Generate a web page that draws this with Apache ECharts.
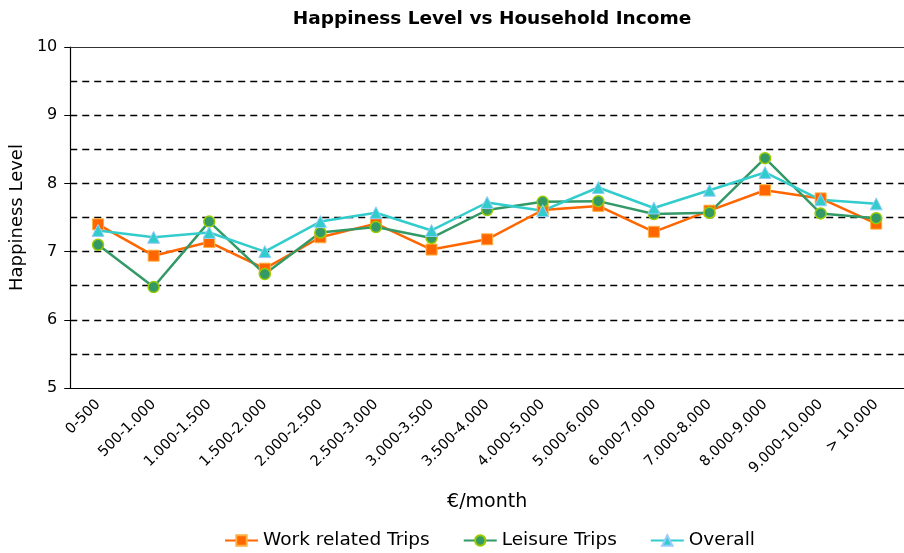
<!DOCTYPE html>
<html>
<head>
<meta charset="utf-8">
<script src="https://cdn.jsdelivr.net/npm/echarts@6/dist/echarts.min.js"></script>
<style>
  html, body { margin: 0; padding: 0; background: #fff; }
  #chart { width: 904px; height: 553px; }
</style>
</head>
<body>
<div id="chart"></div>
<script>
var incomeBands = ["0-500", "500-1.000", "1.000-1.500", "1.500-2.000", "2.000-2.500",
  "2.500-3.000", "3.000-3.500", "3.500-4.000", "4.000-5.000", "5.000-6.000",
  "6.000-7.000", "7.000-8.000", "8.000-9.000", "9.000-10.000", "> 10.000"];
var workTrips = [7.40, 6.94, 7.14, 6.75, 7.21, 7.41, 7.03, 7.18, 7.61, 7.67, 7.29, 7.60, 7.90, 7.78, 7.41];
var leisureTrips = [7.10, 6.48, 7.44, 6.67, 7.28, 7.36, 7.20, 7.61, 7.73, 7.74, 7.55, 7.57, 8.37, 7.56, 7.49];
var overall = [7.31, 7.21, 7.28, 7.00, 7.44, 7.57, 7.31, 7.72, 7.60, 7.94, 7.64, 7.90, 8.16, 7.76, 7.70];

var font = "DejaVu Sans";
var myChart = echarts.init(document.getElementById("chart"));

var option = {
  animation: false,
  textStyle: { fontFamily: font },
  title: {
    text: "Happiness Level vs Household Income",
    left: 487,
    textAlign: "center",
    top: 5,
    textStyle: { fontFamily: font, fontSize: 18.5, fontWeight: "bold", color: "#000" }
  },
  legend: {
    top: 526,
    left: 219,
    itemWidth: 33,
    itemHeight: 13,
    itemGap: 33,
    textStyle: { fontFamily: font, fontSize: 18.5, color: "#000" },
    data: ["Work related Trips", "Leisure Trips", "Overall"]
  },
  grid: {
    left: 70,
    right: -1,
    top: 47,
    bottom: 165
  },
  xAxis: [
    {
      type: "category",
      data: incomeBands,
      boundaryGap: true,
      name: "€/month",
      nameLocation: "middle",
      nameGap: 105,
      nameTextStyle: { fontFamily: font, fontSize: 19, color: "#000" },
      axisLine: { lineStyle: { color: "#000", width: 1.2 } },
      axisTick: { interval: 1, length: 5, lineStyle: { color: "#000" } },
      axisLabel: { interval: 0, rotate: 45, margin: 14, fontSize: 14.5, color: "#000", fontFamily: font }
    },
    {
      // solid frame line along the top of the plot
      type: "category",
      data: incomeBands,
      position: "top",
      axisLine: { show: true, lineStyle: { color: "#333", width: 1.2 } },
      axisTick: { show: false },
      axisLabel: { show: false },
      splitLine: { show: false }
    }
  ],
  yAxis: {
    type: "value",
    min: 5,
    max: 10,
    interval: 1,
    name: "Happiness Level",
    nameLocation: "middle",
    nameRotate: 90,
    nameGap: 40,
    nameTextStyle: { fontFamily: font, fontSize: 18, color: "#000" },
    axisLine: { show: true, lineStyle: { color: "#000", width: 1.2 } },
    axisTick: { show: true, inside: false, length: 6, lineStyle: { color: "#000" } },
    axisLabel: { fontSize: 16, color: "#000", margin: 13, fontFamily: font },
    splitLine: { show: true, showMinLine: false, showMaxLine: false, lineStyle: { color: "#000", type: [7, 5], width: 1.3 } },
    minorTick: { show: false, splitNumber: 2 },
    minorSplitLine: { show: true, lineStyle: { color: "#000", type: [7, 5], width: 1.3 } }
  },
  series: [
    {
      name: "Work related Trips",
      type: "line",
      data: workTrips,
      symbol: "rect",
      symbolSize: 11,
      lineStyle: { color: "#FF6600", width: 2.5 },
      itemStyle: { color: "#FF6600", borderColor: "#FFB040", borderWidth: 1 }
    },
    {
      name: "Leisure Trips",
      type: "line",
      data: leisureTrips,
      symbol: "circle",
      symbolSize: 11,
      lineStyle: { color: "#339966", width: 2.5 },
      itemStyle: { color: "#339966", borderColor: "#99CC00", borderWidth: 1.5 }
    },
    {
      name: "Overall",
      type: "line",
      data: overall,
      symbol: "triangle",
      symbolSize: 12,
      lineStyle: { color: "#33CCCC", width: 2.5 },
      itemStyle: { color: "#33CCCC", borderColor: "#99CCFF", borderWidth: 1 }
    }
  ]
};

myChart.setOption(option);
</script>
</body>
</html>
